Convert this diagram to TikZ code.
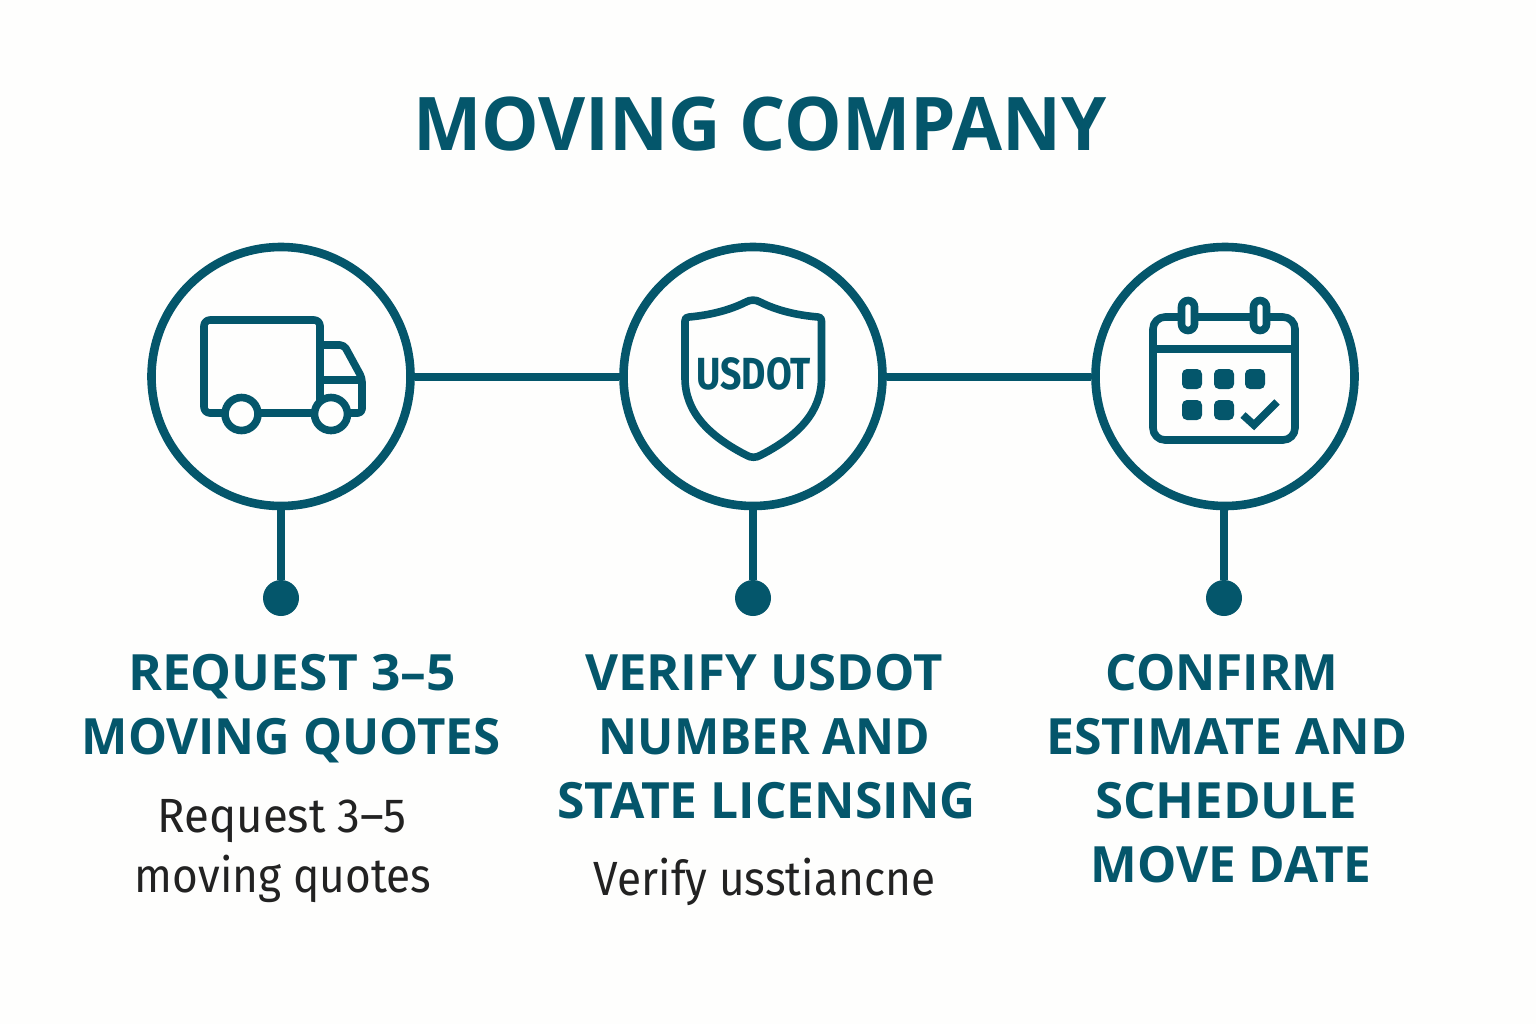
\documentclass[tikz,border=0pt]{standalone}
\usepackage{fontspec}
\setmainfont{Fira Sans}
\newfontfamily\headfont{Open Sans}
\definecolor{teal}{HTML}{04566B}
\definecolor{bodyink}{HTML}{222222}
\definecolor{paper}{HTML}{FEFEFD}
\newcommand{\fitline}[2]{\scalebox{#1}[1]{#2}}
\tikzset{
  ring/.style={circle,draw=teal,line width=4.3pt,minimum size=129.5pt,inner sep=0pt,fill=paper},
  dot/.style={circle,fill=teal,minimum size=18pt,inner sep=0pt},
  link/.style={draw=teal,line width=4pt},
  stem/.style={draw=teal,line width=4pt},
  icon/.style={draw=teal,line width=3.8pt,line join=round},
  titletext/.style={anchor=base,text=teal,font=\headfont\bfseries\fontsize{37}{40}\selectfont,inner sep=0pt},
  headtext/.style={anchor=base,text=teal,font=\headfont\bfseries\fontsize{25}{27}\selectfont,inner sep=0pt},
  bodytext/.style={anchor=base,text=bodyink,font=\fontsize{24}{26}\selectfont,inner sep=0pt}
}
\begin{document}
\begin{tikzpicture}[x=0.5pt,y=-0.5pt]
\fill[paper] (0,0) rectangle (1536,1024);
\useasboundingbox (0,0) rectangle (1536,1024);
\node[titletext] (title) at (760,150) {\fitline{0.98}{MOVING COMPANY}};
\node[ring] (c1) at (281,376.5) {};
\node[ring] (c2) at (753,376.5) {};
\node[ring] (c3) at (1225,376.5) {};
\node[dot] (d1) at (281,598) {};
\node[dot] (d2) at (753,598) {};
\node[dot] (d3) at (1224,598) {};
\path[link] (c1) -- (c2);
\path[link] (c2) -- (c3);
\path[stem] (c1) -- (d1);
\path[stem] (c2) -- (d2);
\path[stem] (c3.south -| d3) -- (d3);
% truck
\draw[icon,rounded corners=3pt] (226,413) -- (204,413) -- (204,320) -- (320,320) -- (320,400);
\draw[icon] (258,413) -- (315,413);
\draw[icon,rounded corners=2pt] (320,345) -- (344,345) -- (362,378) -- (362,413) -- (347,413);
\draw[icon] (320,380) -- (362,380);
\draw[icon,fill=paper] (241.5,414) circle[radius=16.5];
\draw[icon,fill=paper] (331,414) circle[radius=16.5];
% shield
\draw[icon] (746,302) .. controls (750,299.5) and (756,299.5) .. (760,302)
  .. controls (776,310) and (795,315) .. (818,317)
  .. controls (820.5,317) and (821.5,318.5) .. (821.5,321)
  -- (821.5,378)
  .. controls (821.5,412) and (798,436) .. (761,455)
  .. controls (756,458) and (751,458) .. (746,455)
  .. controls (709,436) and (685,412) .. (685,378)
  -- (685,321)
  .. controls (685,318.5) and (686,317) .. (689,317)
  .. controls (711,315) and (730,310) .. (746,302) -- cycle;
\node[anchor=base,text=teal,inner sep=0pt,font=\bfseries\fontsize{22.5}{24}\selectfont] (usdot) at (753.5,389) {\fitline{0.83}{USDOT}};
% calendar
\draw[icon,rounded corners=6pt] (1153,317) rectangle (1295,440);
\draw[icon] (1153,349) -- (1295,349);
\draw[icon,fill=paper,rounded corners=3.2pt] (1181.5,300.5) rectangle (1194.5,330.5);
\draw[icon,fill=paper,rounded corners=3.2pt] (1253.5,300.5) rectangle (1266.5,330.5);
\foreach \px/\py in {1192/379,1224/379,1255/379,1192/410,1224/410}
  \fill[teal,rounded corners=2.5pt] (\px-10,\py-10) rectangle (\px+10,\py+10);
\draw[draw=teal,line width=3.8pt] (1243,415) -- (1254,425) -- (1277,402);
% texts
\node[headtext] (h1a) at (292,690) {\fitline{1.03}{REQUEST 3–5}};
\node[headtext] (h1b) at (291,754) {\fitline{0.983}{MOVING QUOTES}};
\node[bodytext] (b1a) at (282,832) {\fitline{0.95}{Request 3–5}};
\node[bodytext] (b1b) at (283,892) {\fitline{0.92}{moving quotes}};
\node[headtext] (h2a) at (764,690) {\fitline{1.017}{VERIFY USDOT}};
\node[headtext] (h2b) at (764.5,754) {\fitline{0.96}{NUMBER AND}};
\node[headtext] (h2c) at (766.5,818) {\fitline{0.995}{STATE LICENSING}};
\node[bodytext] (b2a) at (764.5,895) {\fitline{0.92}{Verify usstiancne}};
\node[headtext] (h3a) at (1222,690) {\fitline{0.99}{CONFIRM}};
\node[headtext] (h3b) at (1227,754) {ESTIMATE AND};
\node[headtext] (h3c) at (1226,818) {\fitline{1.02}{SCHEDULE}};
\node[headtext] (h3d) at (1231,882) {\fitline{0.99}{MOVE DATE}};
\end{tikzpicture}
\end{document}
